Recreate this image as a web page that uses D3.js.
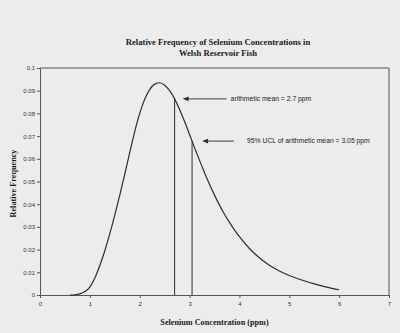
<!DOCTYPE html>
<html>
<head>
<meta charset="utf-8">
<script src="https://cdn.jsdelivr.net/npm/d3@7"></script>
<style>
  html, body { margin: 0; padding: 0; background: #ececec; }
  svg { display: block; }
</style>
</head>
<body>
<svg id="chart" width="400" height="333"></svg>
<script>
// Relative frequency curve of selenium concentrations (ppm)
const concentration = [0.6, 0.7, 0.8, 0.9, 1.0, 1.1, 1.2, 1.3, 1.4, 1.5, 1.6, 1.7, 1.8, 1.9, 2.0, 2.1, 2.2, 2.3, 2.4, 2.5, 2.6, 2.7, 2.8, 2.9, 3.0, 3.1, 3.2, 3.3, 3.4, 3.5, 3.6, 3.7, 3.8, 3.9, 4.0, 4.2, 4.4, 4.6, 4.8, 5.0, 5.25, 5.5, 5.75, 6.0];
const frequency     = [0, 0.0001, 0.0005, 0.0015, 0.0035, 0.0075, 0.013, 0.0195, 0.027, 0.0352, 0.044, 0.0532, 0.0628, 0.072, 0.08, 0.0862, 0.0905, 0.0929, 0.0935, 0.0924, 0.09, 0.0864, 0.0817, 0.0764, 0.0707, 0.0649, 0.0593, 0.0539, 0.0488, 0.044, 0.0396, 0.0356, 0.032, 0.0287, 0.0257, 0.0205, 0.0164, 0.0131, 0.0106, 0.0086, 0.0066, 0.0049, 0.0035, 0.0023];

// Reference lines: arithmetic mean and its 95% UCL
const markerX     = [2.7, 3.05];
const markerTop   = [0.0864, 0.0678];
const markerLabel = ["arithmetic mean = 2.7 ppm", "95% UCL of arithmetic mean = 3.05 ppm"];

const xTicks = [0, 1, 2, 3, 4, 5, 6, 7];
const yTicks = [0, 0.01, 0.02, 0.03, 0.04, 0.05, 0.06, 0.07, 0.08, 0.09, 0.1];

const titleLines = ["Relative Frequency of Selenium Concentrations in", "Welsh Reservoir Fish"];
const xTitle = "Selenium Concentration (ppm)";
const yTitle = "Relative Frequency";

const svg = d3.select("#chart");
const plotLeft = 40, plotRight = 389, plotTop = 68, plotBottom = 295;

const x = d3.scaleLinear().domain([0, 7]).range([plotLeft, plotRight]);
const y = d3.scaleLinear().domain([0, 0.1]).range([plotBottom, plotTop]);

const ink = "#2e2e2e";
const serif = "'Liberation Serif', 'Times New Roman', serif";
const sans = "'Liberation Sans', Arial, sans-serif";

// Title
svg.append("g").selectAll("text").data(titleLines).join("text")
  .attr("x", 218).attr("y", (d, i) => 45 + i * 11)
  .attr("text-anchor", "middle")
  .attr("font-family", serif).attr("font-weight", "bold").attr("font-size", 8.6)
  .attr("fill", "#1a1a1a")
  .text(d => d);

// Plot frame (top and right edges)
svg.append("path")
  .attr("d", `M${plotLeft},${plotTop}H${plotRight}V${plotBottom}`)
  .attr("fill", "none").attr("stroke", "#555").attr("stroke-width", 1);

// Axes
const xAxis = d3.axisBottom(x).tickValues(xTicks).tickSize(3).tickSizeOuter(0).tickFormat(d3.format("d"));
const yAxis = d3.axisLeft(y).tickValues(yTicks).tickSize(3).tickSizeOuter(0)
  .tickFormat(d => d === 0 ? "0" : String(+d.toFixed(2)));

const gx = svg.append("g").attr("transform", `translate(0,${plotBottom})`).call(xAxis);
const gy = svg.append("g").attr("transform", `translate(${plotLeft},0)`).call(yAxis);
[gx, gy].forEach(g => {
  g.select(".domain").attr("stroke", "#555");
  g.selectAll(".tick line").attr("stroke", "#555");
  g.selectAll(".tick text").attr("font-family", sans).attr("font-size", 6).attr("fill", "#333");
});
gx.selectAll(".tick text").attr("dy", "0.9em");
gy.selectAll(".tick text").attr("x", -5);

// Axis titles
svg.append("text")
  .attr("x", (plotLeft + plotRight) / 2).attr("y", 325)
  .attr("text-anchor", "middle")
  .attr("font-family", serif).attr("font-weight", "bold").attr("font-size", 8.2)
  .attr("fill", "#1a1a1a").text(xTitle);

svg.append("text")
  .attr("transform", `translate(16,${(plotTop + plotBottom) / 2 + 2}) rotate(-90)`)
  .attr("text-anchor", "middle")
  .attr("font-family", serif).attr("font-weight", "bold").attr("font-size", 8.2)
  .attr("fill", "#1a1a1a").text(yTitle);

// Frequency curve
const pts = concentration.map((c, i) => [c, frequency[i]]);
svg.append("path")
  .datum(pts)
  .attr("d", d3.line().x(d => x(d[0])).y(d => y(d[1])).curve(d3.curveMonotoneX))
  .attr("fill", "none").attr("stroke", ink).attr("stroke-width", 1.2);

// Vertical reference lines up to the curve
svg.append("g").selectAll("line").data(markerX).join("line")
  .attr("x1", d => x(d)).attr("x2", d => x(d))
  .attr("y1", y(0)).attr("y2", (d, i) => y(markerTop[i]))
  .attr("stroke", ink).attr("stroke-width", 1);

// Arrows with labels
const arrowGap = [8, 10], arrowLen = [44, 32], labelGap = [4, 13];
const ann = svg.append("g");
markerX.forEach((m, i) => {
  const yy = y(markerTop[i]);
  const tip = x(m) + arrowGap[i];
  const tail = tip + arrowLen[i];
  ann.append("line")
    .attr("x1", tip + 5).attr("x2", tail).attr("y1", yy).attr("y2", yy)
    .attr("stroke", ink).attr("stroke-width", 0.9);
  ann.append("path")
    .attr("d", `M${tip},${yy}L${tip + 6},${yy - 2.3}L${tip + 6},${yy + 2.3}Z`)
    .attr("fill", ink);
  ann.append("text")
    .attr("x", tail + labelGap[i]).attr("y", yy).attr("dy", "0.35em")
    .attr("font-family", sans).attr("font-size", 6.8).attr("fill", "#222")
    .text(markerLabel[i]);
});
</script>
</body>
</html>
